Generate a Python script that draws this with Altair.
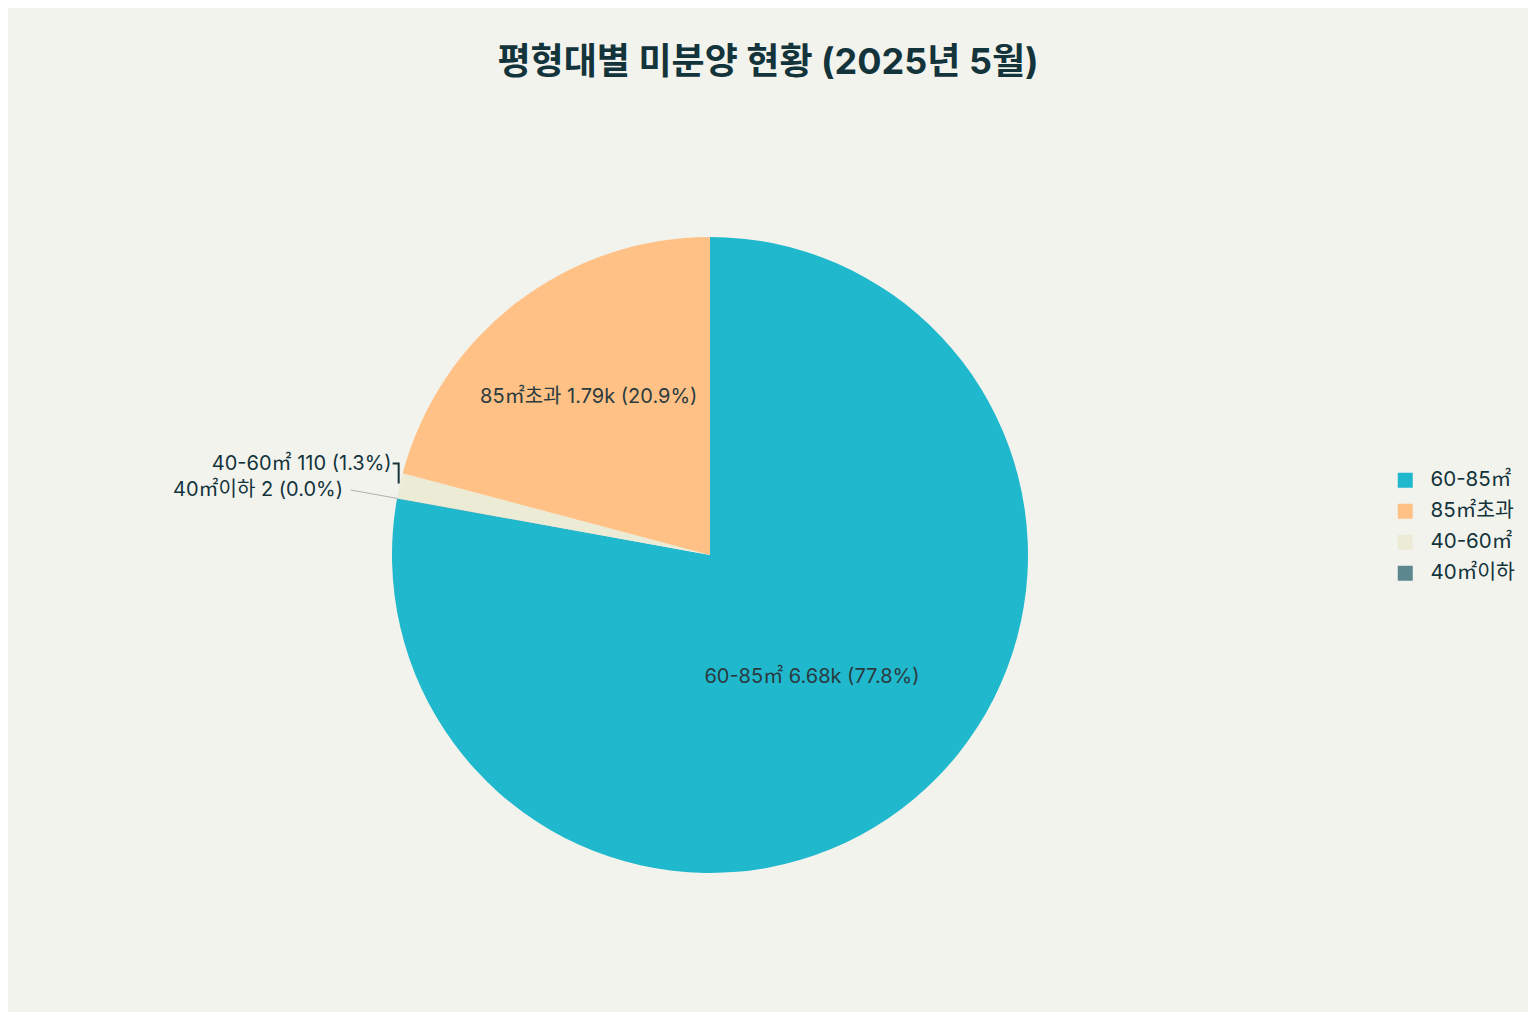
import math
import altair as alt
import pandas as pd

# ---- data (pie order, clockwise from 12 o'clock) ----
categories = ["60-85㎡", "40㎡이하", "40-60㎡", "85㎡초과"]
values = [6680, 2, 110, 1790]
value_labels = ["6.68k", "2", "110", "1.79k"]
legend_order = ["60-85㎡", "85㎡초과", "40-60㎡", "40㎡이하"]
legend_colors = ["#1FB8CD", "#FFC185", "#ECEBD5", "#5D878F"]
inside_cats = ["60-85㎡", "85㎡초과"]
inside_radius = [159, 199]

TITLE = "평형대별 미분양 현황 (2025년 5월)"
FONT = "Inter, 'Noto Sans CJK KR', sans-serif"
TXT = "#13343B"
BG = "#F3F3EE"

W, H = 1404, 894
R = 318
cx, cy = W / 2, H / 2

total = sum(values)
rows = []
acc = 0
for i, (c, v, l) in enumerate(zip(categories, values, value_labels)):
    a0 = acc / total * 2 * math.pi
    acc += v
    a1 = acc / total * 2 * math.pi
    pct = f"{v / total * 100:.1f}%"
    rows.append(dict(cat=c, value=v, order=i, label=f"{c} {l} ({pct})",
                     mid=(a0 + a1) / 2))
df = pd.DataFrame(rows)


def pt(angle, r):
    return cx + r * math.sin(angle), cy - r * math.cos(angle)


# inside labels
df_in = df[df.cat.isin(inside_cats)].copy()
df_in["r"] = [inside_radius[inside_cats.index(c)] for c in df_in.cat]

# outside labels + leader lines
m4060 = df.loc[df.cat == "40-60㎡", "mid"].iloc[0]
m40 = df.loc[df.cat == "40㎡이하", "mid"].iloc[0]
ex, ey = pt(m4060, R)
lx40, ly40 = pt(m40, R + 55)
df_out = pd.DataFrame([
    dict(label=df.loc[df.cat == "40-60㎡", "label"].iloc[0], px=ex - 8, py=ey - 22),
    dict(label=df.loc[df.cat == "40㎡이하", "label"].iloc[0], px=lx40, py=ly40 + 1),
])
a1x, a1y = pt(m40, R)
a2x, a2y = pt(m40, R + 47)
df_bracket = pd.DataFrame([
    dict(seg="a", i=0, px=ex - 7, py=ey - 22),
    dict(seg="a", i=1, px=ex - 1, py=ey - 22),
    dict(seg="a", i=2, px=ex - 1, py=ey - 2),
])
df_lead = pd.DataFrame([
    dict(seg="b", i=0, px=a1x, py=a1y),
    dict(seg="b", i=1, px=a2x, py=a2y),
])

arcs = alt.Chart(df).mark_arc(outerRadius=R).encode(
    theta=alt.Theta("value:Q", stack=True),
    order=alt.Order("order:Q"),
    color=alt.Color(
        "cat:N",
        scale=alt.Scale(domain=legend_order, range=legend_colors),
        legend=alt.Legend(
            title=None, orient="none", legendX=1387, legendY=362,
            symbolType="square", symbolSize=225, symbolStrokeWidth=0,
            labelFontSize=20.5, labelColor=TXT, labelFont=FONT,
            labelOffset=15, rowPadding=10,
        ),
    ),
)

inside = alt.Chart(df_in).mark_text(
    fontSize=20, font=FONT, color="#2A3B40", align="center", baseline="middle"
).encode(
    theta=alt.Theta("mid:Q", scale=None),
    radius=alt.Radius("r:Q", scale=None),
    text="label:N",
)

outside = alt.Chart(df_out).mark_text(
    fontSize=20, font=FONT, color=TXT, align="right", baseline="middle"
).encode(
    x=alt.X("px:Q", scale=None, axis=None),
    y=alt.Y("py:Q", scale=None, axis=None),
    text="label:N",
)

bracket = alt.Chart(df_bracket).mark_line(color=TXT, strokeWidth=2).encode(
    x=alt.X("px:Q", scale=None, axis=None),
    y=alt.Y("py:Q", scale=None, axis=None),
    order="i:Q",
)

lead = alt.Chart(df_lead).mark_line(color="#9AA0A0", strokeWidth=0.8).encode(
    x=alt.X("px:Q", scale=None, axis=None),
    y=alt.Y("py:Q", scale=None, axis=None),
    order="i:Q",
)

chart = alt.layer(arcs, inside, lead, bracket, outside).properties(
    width=W, height=H,
    autosize=alt.AutoSizeParams(type="none"),
    padding={"left": 0, "top": 100, "right": 116, "bottom": 10},
    background=BG,
    title=alt.TitleParams(
        TITLE, fontSize=36, fontWeight="bold", color=TXT, font=FONT,
        anchor="middle", dx=58, offset=26,
    ),
).configure_view(stroke=None)

chart.save("out.html", embed_options={"renderer": "svg", "actions": False})
